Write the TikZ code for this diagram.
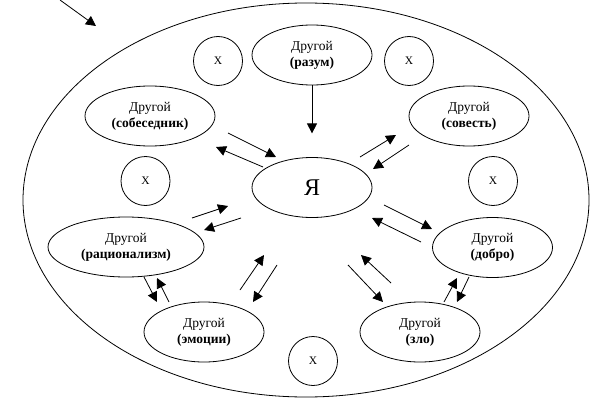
\documentclass[tikz,border=0pt]{standalone}
\usepackage{fontspec}
\setmainfont{Liberation Serif}
\usetikzlibrary{shapes.geometric,arrows.meta}
\tikzset{>={Triangle[length=10pt,width=10pt]}}
\tikzset{%
    other/.style={%
        ellipse,draw,line width=0.8pt,inner sep=0pt,
        minimum width=120pt,minimum height=60pt,align=center,
        font=\fontsize{13.5}{16}\selectfont
    },
    cross/.style={%
        circle,draw,line width=0.8pt,inner sep=0pt,minimum size=49pt,
        font=\fontsize{11.5}{12}\selectfont
    }
}

\begin{document}
\begin{tikzpicture}[x=1pt,y=-1pt]
    \useasboundingbox (0,0) rectangle (612,409);
    \node[draw,ellipse,line width=0.8pt,minimum width=566pt,minimum height=394pt] (field) at (306,200) {};
    % the others round the self
    \node[other] (ya) at (312,187.5) {\fontsize{24}{26}\selectfont Я};
    \node[other] (reason) at (312,55) {Другой\\\textbf{(разум)}};
    \node[other,minimum width=130pt] (partner) at (150,116) {Другой\\\textbf{(собеседник)}};
    \node[other] (conscience) at (469,116) {Другой\\\textbf{(совесть)}};
    \node[other,minimum width=156pt] (rational) at (126,247) {Другой\\\textbf{(рационализм)}};
    \node[other] (emotion) at (204,332) {Другой\\\textbf{(эмоции)}};
    \node[other] (good) at (492.5,247.5) {Другой\\\textbf{(добро)}};
    \node[other] (evil) at (420,332) {Другой\\\textbf{(зло)}};
    \node[cross] (x1) at (218,61) {X};
    \node[cross] (x2) at (409,61) {X};
    \node[cross] (x3) at (145.5,181) {X};
    \node[cross] (x4) at (493,181) {X};
    \node[cross] (x5) at (313,361) {X};
    % arrows
    \draw[->,line width=0.8pt] (reason.south) -- ++(0,48);
    \foreach \xa/\ya/\xb/\yb [count=\i] in {60/0/96/26,
        228/133/276/157, 263/167/216/147,
        360/157/396/135, 409/145/373/169,
        192/218/228/206, 241/218/204/230,
        144/277/157/302, 169/302/157/278,
        240/290/264/255, 277/265/253/302,
        384/205/432/229, 421/242/372/218,
        348/265/383/302, 391/283/361/255,
        444/302/457/278, 469/277/457/302}{
        \coordinate (from\i) at (\xa,\ya);
        \coordinate (to\i) at (\xb,\yb);
        \draw[->,line width=0.8pt] (from\i) -- (to\i);
    }
\end{tikzpicture}
\end{document}
